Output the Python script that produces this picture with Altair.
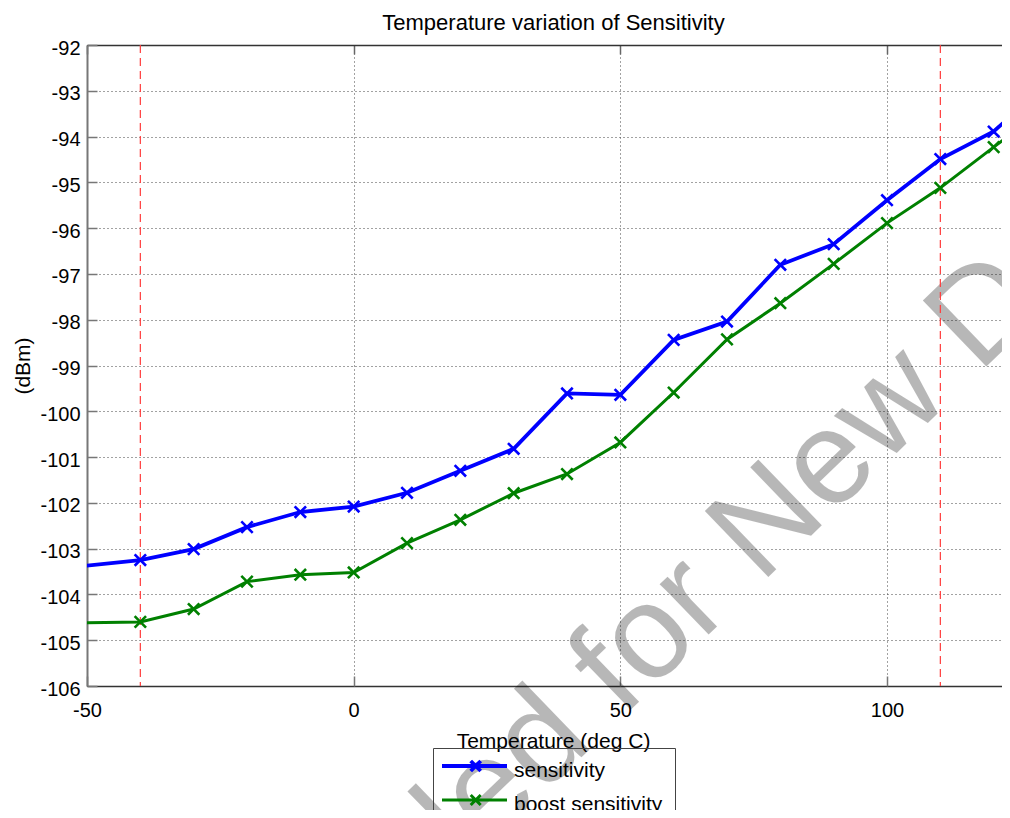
import altair as alt
import pandas as pd

FONT = "Liberation Sans"

# ---- data ----
temps = [-60, -40, -30, -20, -10, 0, 10, 20, 30, 40, 50, 60, 70, 80, 90, 100, 110, 120, 130]
sensitivity = [-103.49, -103.25, -103.01, -102.53, -102.20, -102.08, -101.78, -101.30, -100.82,
               -99.61, -99.64, -98.44, -98.04, -96.80, -96.35, -95.39, -94.49, -93.89, -92.84]
boost_sensitivity = [-104.64, -104.60, -104.32, -103.72, -103.57, -103.52, -102.88, -102.37, -101.79,
                     -101.37, -100.68, -99.59, -98.43, -97.64, -96.78, -95.89, -95.12, -94.23, -93.35]
series_names = ["sensitivity", "boost sensitivity"]
series_colors = ["#0000ff", "#008000"]
series_widths = [3.8, 3.0]
limit_temps = [-40, 110]
x_ticks = [-50, 0, 50, 100]
y_ticks = list(range(-106, -91))
x_domain = [-50, 121.56]
y_domain = [-106, -92]
chart_title = "Temperature variation of Sensitivity"
watermark_text = ["Not Recommended for New Designs"]
watermark_x = [36.4]
watermark_y = [-108.27]

# ---- tables ----
rows = []
for t, s, b in zip(temps, sensitivity, boost_sensitivity):
    rows.append({"temp": t, "value": s, "series": series_names[0]})
    rows.append({"temp": t, "value": b, "series": series_names[1]})
df = pd.DataFrame(rows)
df_limits = pd.DataFrame({"temp": limit_temps})
df_wm = pd.DataFrame({"text": watermark_text, "temp": watermark_x, "value": watermark_y})

W, H = 915, 641
xs = alt.Scale(domain=x_domain, nice=False, zero=False)
ys = alt.Scale(domain=y_domain, nice=False, zero=False)
cs = alt.Scale(domain=series_names, range=series_colors)

lab = dict(labelFont=FONT, labelFontSize=20, labelColor="black")
ttl = dict(titleFont=FONT, titleFontSize=21, titleFontWeight="normal", titleColor="black")

X_MARKER = "M-1,-1L1,1M-1,1L1,-1"
LEGEND_SYMBOL = "M-2.7,-0.9L10.3,-0.9M3.04,-1.9L5.04,0.1M3.04,0.1L5.04,-1.9"

# watermark (behind everything)
wm = alt.Chart(df_wm).mark_text(
    font=FONT, fontSize=133, angle=316, align="center", baseline="alphabetic",
    fill="#000000", opacity=0.28
).encode(
    x=alt.X("temp:Q", scale=xs, axis=None),
    y=alt.Y("value:Q", scale=ys, axis=None),
    text="text:N",
)

# red dashed limit lines + top border with inward ticks (+ chart title)
limits = alt.Chart(df_limits).mark_rule(
    color="#ff3b3b", strokeDash=[8, 5], strokeWidth=1.2
).encode(
    x=alt.X("temp:Q", scale=xs, axis=alt.Axis(
        orient="bottom", offset=-H, values=x_ticks, labels=False, grid=False,
        ticks=True, tickSize=9, tickColor="#666", tickWidth=1.5,
        domain=True, domainColor="#333", domainWidth=1.5,
        title=chart_title, titleX=466, titleY=-16, titleBaseline="alphabetic",
        titleAlign="center", titleFont=FONT, titleFontSize=22,
        titleFontWeight="normal", titleColor="black")),
)

# main lines with labelled axes and grid
lines = alt.Chart(df).mark_line(clip=True).encode(
    x=alt.X("temp:Q", scale=xs, axis=alt.Axis(
        orient="bottom", values=x_ticks, labelExpr="toString(datum.value)",
        ticks=False, grid=True, gridDash=[1, 3], gridColor="#444", gridWidth=1,
        domain=True, domainColor="#333", domainWidth=1.5,
        labelPadding=30, labelBaseline="alphabetic", labelAlign="center",
        title="Temperature (deg C)", titleX=466, titleY=61,
        titleBaseline="alphabetic", titleAlign="center", **lab, **ttl)),
    y=alt.Y("value:Q", scale=ys, axis=alt.Axis(
        orient="left", values=y_ticks, labelExpr="toString(datum.value)",
        ticks=False, grid=True, gridDash=[1, 3], gridColor="#444", gridWidth=1,
        domain=True, domainColor="#777", domainWidth=2,
        labelPadding=7, labelOffset=3,
        title="(dBm)", titleAngle=270, titleX=-58, titleY=H / 2,
        titleBaseline="alphabetic", titleAlign="center", **lab, **ttl)),
    color=alt.Color("series:N", scale=cs, legend=alt.Legend(
        orient="none", legendX=346, legendY=703, title=None,
        symbolType=LEGEND_SYMBOL, symbolSize=100, symbolStrokeWidth=3,
        labelFont=FONT, labelFontSize=21, labelColor="black", labelOffset=48,
        rowPadding=8, padding=12, strokeColor="#444", cornerRadius=0)),
    strokeWidth=alt.StrokeWidth("series:N", scale=alt.Scale(domain=series_names, range=series_widths),
                                legend=None),
)

# x markers, plus inward ticks on bottom and left edges
points = alt.Chart(df).mark_point(
    shape=X_MARKER, filled=False, size=130, strokeWidth=2.6, opacity=1, clip=True
).encode(
    x=alt.X("temp:Q", scale=xs, axis=alt.Axis(
        orient="top", offset=-H, values=x_ticks, labels=False, grid=False,
        ticks=True, tickSize=10, tickColor="#777", tickWidth=1.5,
        domain=False, title=None)),
    y=alt.Y("value:Q", scale=ys, axis=alt.Axis(
        orient="right", offset=-W, values=y_ticks, labels=False, grid=False,
        ticks=True, tickSize=10, tickColor="#777", tickWidth=1.5,
        domain=False, title=None)),
    color=alt.Color("series:N", scale=cs, legend=None),
)

chart = alt.layer(wm, limits, lines, points).resolve_axis(
    x="independent", y="independent"
).properties(
    width=W, height=H,
    autosize=alt.AutoSizeParams(type="none"),
    padding={"left": 79, "top": 37, "right": 0, "bottom": 124},
).configure_view(stroke=None)

chart.save("out.html", embed_options={"renderer": "svg", "actions": False})
